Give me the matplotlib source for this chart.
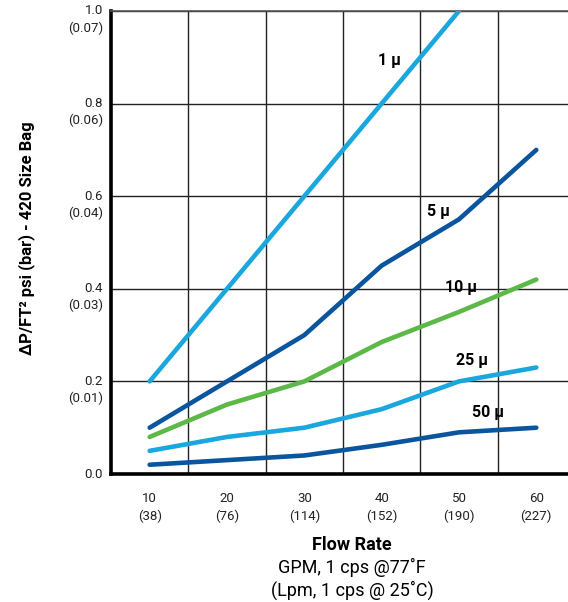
"""
Pressure drop vs flow rate for 420 size filter bags.
"""

import numpy as np
import matplotlib
matplotlib.use("Agg")
import matplotlib.pyplot as plt
from matplotlib.ticker import FixedLocator
import matplotlib.transforms as mtransforms

plt.rcParams["font.family"] = ["Roboto", "DejaVu Sans"]

# data
flow_gpm = ["10", "20", "30", "40", "50", "60"]
flow_lpm = ["(38)", "(76)", "(114)", "(152)", "(190)", "(227)"]
psi_ticks = [0.0, 0.2, 0.4, 0.6, 0.8, 1.0]
bar_ticks = ["", "(0.01)", "(0.03)", "(0.04)", "(0.06)", "(0.07)"]

micron_labels = ["1 µ", "5 µ", "10 µ", "25 µ", "50 µ"]
dp_1 = [0.20, 0.40, 0.60, 0.80, 1.00]
dp_5 = [0.10, 0.20, 0.30, 0.45, 0.55, 0.70]
dp_10 = [0.08, 0.15, 0.20, 0.285, 0.35, 0.42]
dp_25 = [0.05, 0.08, 0.10, 0.14, 0.20, 0.23]
dp_50 = [0.02, 0.03, 0.04, 0.063, 0.09, 0.10]

light_blue = "#19a7de"
dark_blue = "#0b559f"
green = "#5cb947"
colors = [light_blue, dark_blue, green, light_blue, dark_blue]
# label placement (x index, y) for each curve
label_pos = [(3.10, 0.893), (3.73, 0.566), (4.03, 0.402), (4.17, 0.246), (4.37, 0.132)]

fig = plt.figure(figsize=(5.68, 6.02), dpi=100)
ax = fig.add_axes([111 / 568, 128 / 602, 1 - 111 / 568, 463 / 602])

x = np.arange(len(flow_gpm))
for series, color in zip([dp_1, dp_5, dp_10, dp_25, dp_50], colors):
    ax.plot(x[:len(series)], series, color=color, lw=3.3, solid_capstyle="round", zorder=3)

for text, (lx, ly) in zip(micron_labels, label_pos):
    ax.text(lx, ly, text, fontsize=11.5, fontweight="bold", ha="center", va="center", zorder=4)

ax.set_xlim(-0.5, 5.41)
ax.set_ylim(0, 1.0)

# grid between categories
ax.xaxis.set_major_locator(FixedLocator(x))
ax.xaxis.set_minor_locator(FixedLocator(x[:-1] + 0.5))
ax.set_yticks(psi_ticks)
ax.set_xticklabels([])
ax.set_yticklabels([])
ax.tick_params(which="both", length=0)
ax.grid(which="minor", axis="x", color="#222222", lw=1.0)
ax.grid(which="major", axis="y", color="#222222", lw=1.0)
ax.set_axisbelow(True)

ax.spines["right"].set_visible(False)
ax.spines["left"].set_linewidth(2.6)
ax.spines["bottom"].set_linewidth(2.6)
ax.spines["top"].set_linewidth(1.2)
ax.spines["top"].set_color("#555555")

# two-line tick labels
ytrans = mtransforms.blended_transform_factory(ax.transAxes, ax.transData)
for val, bar in zip(psi_ticks, bar_ticks):
    t0 = mtransforms.offset_copy(ytrans, fig=fig, x=-8, y=0, units="dots")
    ax.text(0, val, f"{val:.1f}", transform=t0, ha="right", va="center",
            fontsize=9.5, color="#222222")
    if bar:
        t1 = mtransforms.offset_copy(ytrans, fig=fig, x=-8, y=-17, units="dots")
        ax.text(0, val, bar, transform=t1, ha="right", va="center",
                fontsize=9.5, color="#222222")

xtrans = mtransforms.blended_transform_factory(ax.transData, ax.transAxes)
for xi, gpm, lpm in zip(x, flow_gpm, flow_lpm):
    t0 = mtransforms.offset_copy(xtrans, fig=fig, x=0, y=-24, units="dots")
    t1 = mtransforms.offset_copy(xtrans, fig=fig, x=0, y=-42, units="dots")
    ax.text(xi, 0, gpm, transform=t0, ha="center", va="center", fontsize=9.5, color="#222222")
    ax.text(xi, 0, lpm, transform=t1, ha="center", va="center", fontsize=9.5, color="#222222")

fig.text(352 / 568, 1 - 545 / 602, "Flow Rate", ha="center", va="center",
         fontsize=13, fontweight="bold")
fig.text(352 / 568, 1 - 567 / 602, "GPM, 1 cps @77˚F", ha="center", va="center", fontsize=13)
fig.text(352 / 568, 1 - 590 / 602, "(Lpm, 1 cps @ 25˚C)", ha="center", va="center", fontsize=13)
fig.text(27 / 568, 1 - 238 / 602, "ΔP/FT² psi (bar) - 420 Size Bag", rotation=90,
         ha="center", va="center", fontsize=12, fontweight="bold")

fig.savefig("out.png", dpi=100)
